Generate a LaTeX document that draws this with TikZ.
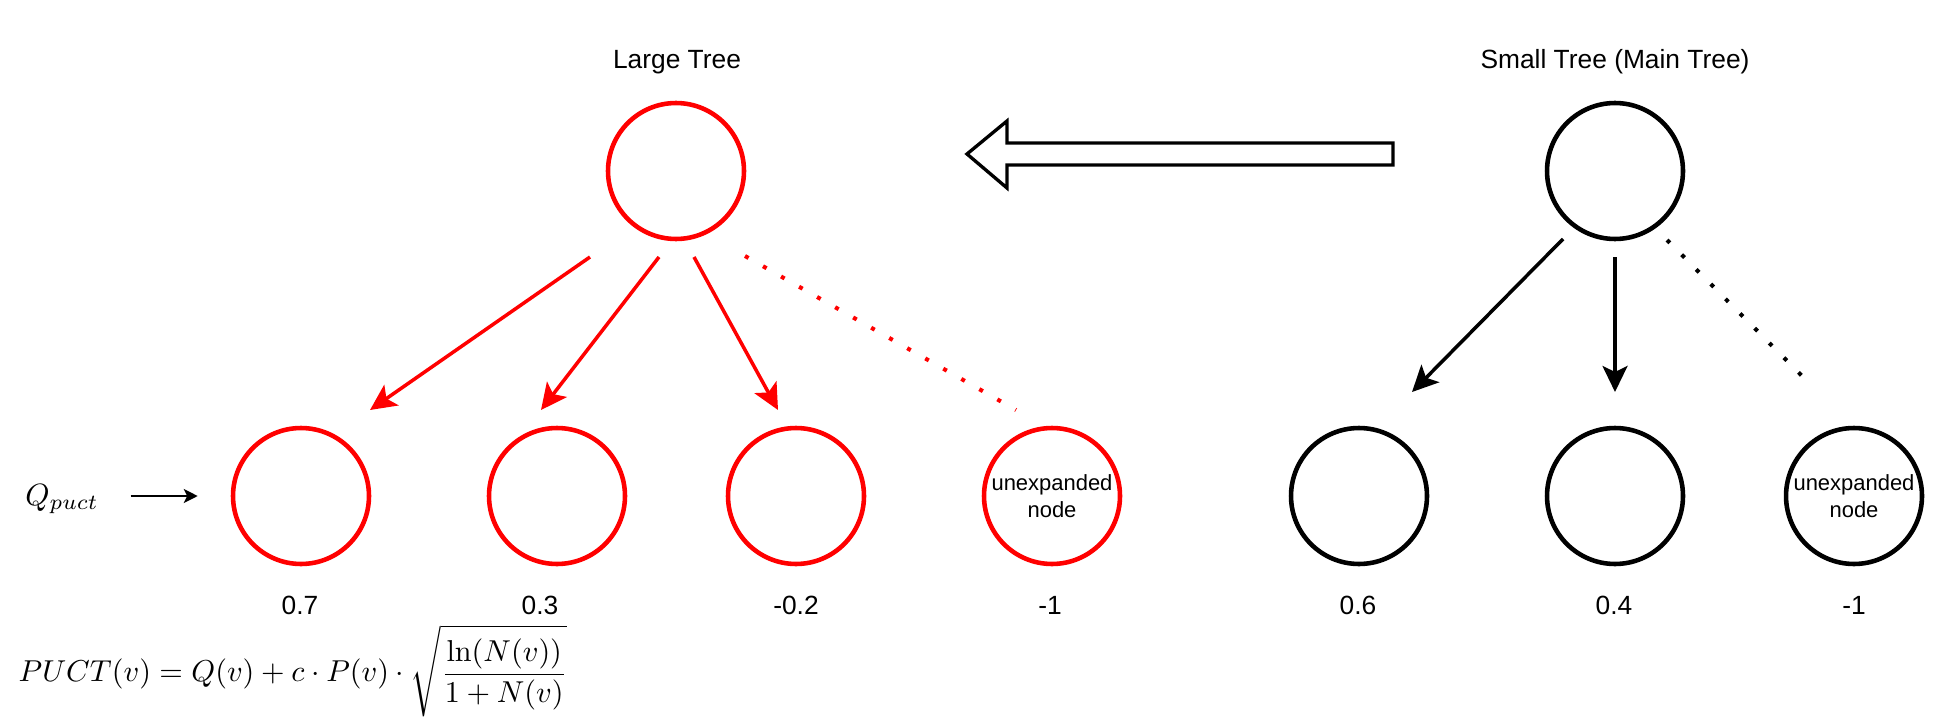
\documentclass[tikz,border=0pt]{standalone}
\usepackage[no-math]{fontspec}
\setmainfont{Liberation Sans}
\usetikzlibrary{arrows.meta}

\begin{document}
\begin{tikzpicture}[x=0.02cm, y=-0.02cm,
    rnode/.style={shape=circle, draw=red, line width=2.6pt, minimum size=2.72cm, inner sep=0pt},
    bnode/.style={shape=circle, draw=black, line width=2.6pt, minimum size=2.72cm, inner sep=0pt},
    rarrow/.style={draw=red, line width=2pt, -{Stealth[length=14.8pt, width=14.2pt, inset=3.4pt]}},
    barrow/.style={draw=black, line width=2pt, -{Stealth[length=14.8pt, width=14.2pt, inset=3.4pt]}},
    rdots/.style={draw=red, line width=2.3pt, dash pattern=on 2.3pt off 9.5pt},
    bdots/.style={draw=black, line width=2.3pt, dash pattern=on 2.3pt off 9.5pt},
    title/.style={font=\fontsize{15}{18}\selectfont},
    value/.style={font=\fontsize{15}{18}\selectfont},
    unexp/.style={font=\fontsize{12.5}{15.4}\selectfont, align=center}]
      \useasboundingbox (0,0) rectangle (1944,723);

      \node[title] (ltitle) at (677,62) {Large Tree};
      \node[title] (stitle) at (1615,62) {Small Tree (Main Tree)};

      % large tree
      \node[rnode] (lroot) at (676,171) {};
      \node[rnode] (l1) at (301,496) {};
      \node[rnode] (l2) at (557,496) {};
      \node[rnode] (l3) at (796,496) {};
      \node[rnode, unexp] (l4) at (1052,496) {unexpanded\\node};

      \node[value] (lv1) at (300,605) {0.7};
      \node[value] (lv2) at (540,605) {0.3};
      \node[value] (lv3) at (796,605) {-0.2};
      \node[value] (lv4) at (1050,605) {-1};

      \draw[rarrow] ([shift={(-86,86)}]lroot.center) -- ([shift={(69,-86)}]l1.center);
      \draw[rarrow] ([shift={(-17,86)}]lroot.center) -- ([shift={(-16,-86)}]l2.center);
      \draw[rarrow] ([shift={(18,86)}]lroot.center) -- ([shift={(-18,-86)}]l3.center);
      \draw[rdots] ([shift={(69,85)}]lroot.center) -- ([shift={(-36,-86)}]l4.center);

      % small tree
      \node[bnode] (sroot) at (1615,171) {};
      \node[bnode] (s1) at (1359,496) {};
      \node[bnode] (s2) at (1615,496) {};
      \node[bnode, unexp] (s3) at (1854,496) {unexpanded\\node};

      \node[value] (sv1) at (1358,605) {0.6};
      \node[value] (sv2) at (1614,605) {0.4};
      \node[value] (sv3) at (1854,605) {-1};

      \draw[barrow] ([shift={(-52,68)}]sroot.center) -- ([shift={(53,-104)}]s1.center);
      \draw[barrow] ([shift={(0,86)}]sroot.center) -- ([shift={(0,-104)}]s2.center);
      \draw[bdots] ([shift={(52,69)}]sroot.center) -- ([shift={(-41,-109)}]s3.center);

      % hollow arrow
      \draw[line width=1.9pt, miter limit=10] (967,154) -- (1007,121) -- (1007,143) -- (1393,143)
        -- (1393,165) -- (1007,165) -- (1007,188) -- cycle;

      % q label and formula
      \node[scale=1.75] (qlabel) at (62,499) {$Q_{puct}$};
      \draw[line width=0.9pt, -{Stealth[length=8pt, width=8pt, inset=2pt]}]
        ([xshift=0.42cm]qlabel.east |- l1.west) -- ([xshift=-0.66cm]l1.west);
      \node[scale=1.72] (puct) at (293,671)
        {$\displaystyle PUCT(v) = Q(v) + c\cdot P(v)\cdot\sqrt{\frac{\ln(N(v))}{1+N(v)}}$};

      \end{tikzpicture}
\end{document}
